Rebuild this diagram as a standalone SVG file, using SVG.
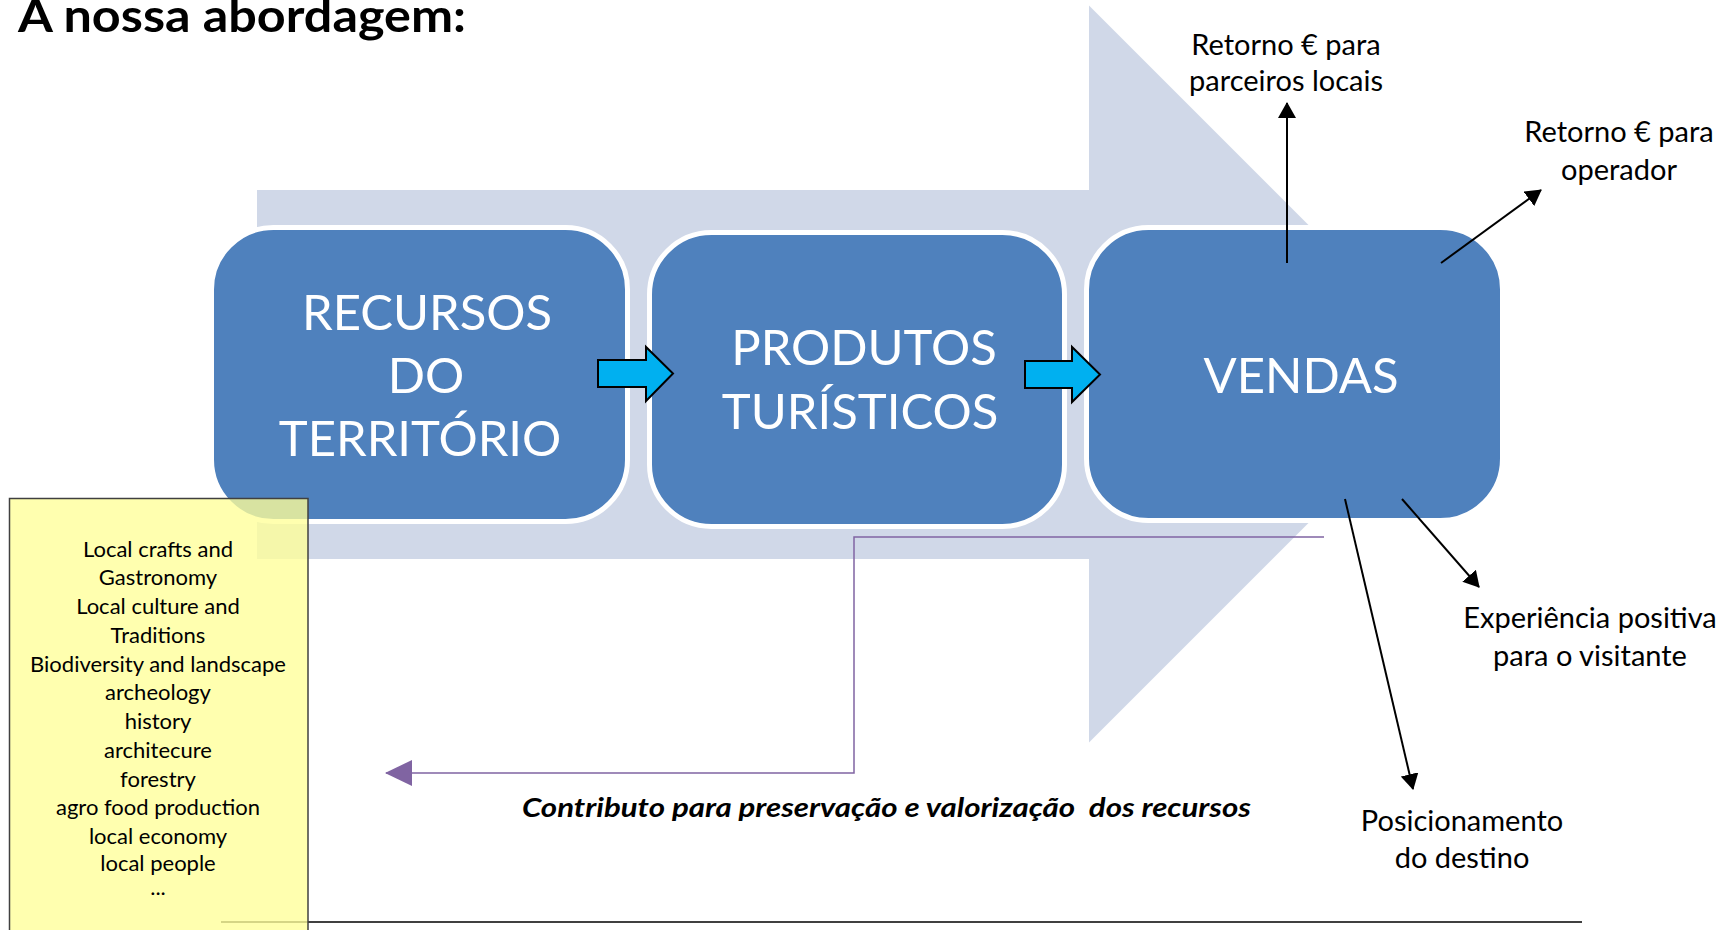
<svg xmlns="http://www.w3.org/2000/svg" width="1721" height="930" viewBox="0 0 1721 930">
<style>
.box{fill:#4F81BD;stroke:#FFFFFF;stroke-width:5}
.bt{font-family:Lato,"Liberation Sans",sans-serif;font-size:49px;fill:#FFFFFF;text-anchor:middle}
.lbl{font-family:Lato,"Liberation Sans",sans-serif;font-size:29px;fill:#000000;text-anchor:middle}
.lst{font-family:Lato,"Liberation Sans",sans-serif;font-size:22px;fill:#000000;text-anchor:middle}
.blk{stroke:#000000;stroke-width:2;fill:none;marker-end:url(#ah)}
.cyan{fill:#00B0F0;stroke:#000000;stroke-width:2;stroke-linejoin:miter}
</style>
<defs>
<marker id="ah" markerUnits="userSpaceOnUse" viewBox="0 0 16 18" refX="15" refY="9" markerWidth="16" markerHeight="18" orient="auto">
<path d="M0,0 L16,9 L0,18 z" fill="#000000"/>
</marker>
<marker id="ph" markerUnits="userSpaceOnUse" viewBox="0 0 27 26" refX="26" refY="13" markerWidth="27" markerHeight="26" orient="auto">
<path d="M0,0 L27,13 L0,26 z" fill="#8064A2"/>
</marker>
</defs>
<rect width="1721" height="930" fill="#FFFFFF"/>
<text x="18" y="32" font-family="Lato,'Liberation Sans',sans-serif" font-weight="bold" font-size="46" textLength="448" lengthAdjust="spacingAndGlyphs" fill="#000000">A nossa abordagem:</text>
<g id="background-arrow">
<polygon points="257,190 1089,190 1089,5.5 1457.5,374 1089,742.5 1089,559 257,559" fill="#D0D8E8"/>
</g>
<g id="node-recursos">
<rect class="box" x="211.5" y="227.5" width="416" height="294" rx="62" ry="62"/>
<text class="bt" x="427" y="330">RECURSOS</text>
<text class="bt" x="426" y="393">DO</text>
<text class="bt" x="420" y="456">TERRITÓRIO</text>
</g>
<g id="node-produtos">
<rect class="box" x="649.5" y="232.5" width="415" height="294" rx="62" ry="62"/>
<text class="bt" x="864" y="365">PRODUTOS</text>
<text class="bt" x="860" y="429">TURÍSTICOS</text>
</g>
<g id="node-vendas">
<rect class="box" x="1086.5" y="227.5" width="416" height="293" rx="62" ry="62"/>
<text class="bt" x="1301" y="393">VENDAS</text>
</g>
<g id="connectors">
<polygon class="cyan" points="598,360 646,360 646,347 673,373.5 646,401 646,387 598,387"/>
<polygon class="cyan" points="1025,361 1072,361 1072,347 1100,374.5 1072,402 1072,388 1025,388"/>
<line class="blk" x1="1287" y1="263" x2="1287" y2="103"/>
<line class="blk" x1="1441" y1="263" x2="1541" y2="190"/>
<line class="blk" x1="1402" y1="499" x2="1479" y2="587"/>
<line class="blk" x1="1345" y1="499" x2="1413" y2="789"/>
<polyline points="1324,537 854,537 854,773 386,773" fill="none" stroke="#8064A2" stroke-width="1.5" marker-end="url(#ph)"/>
</g>
<g id="label-parceiros">
<text class="lbl" x="1286" y="55">Retorno € para</text>
<text class="lbl" x="1286" y="91">parceiros locais</text>
</g>
<g id="label-operador">
<text class="lbl" x="1619" y="142">Retorno € para</text>
<text class="lbl" x="1619" y="180">operador</text>
</g>
<g id="label-experiencia">
<text class="lbl" x="1590" y="628">Experiência positiva</text>
<text class="lbl" x="1590" y="666">para o visitante</text>
</g>
<g id="label-posicionamento">
<text class="lbl" x="1462" y="831">Posicionamento</text>
<text class="lbl" x="1462" y="868">do destino</text>
</g>
<g id="label-contributo">
<text x="522" y="817" font-family="Lato,'Liberation Sans',sans-serif" font-weight="bold" font-style="italic" font-size="26" textLength="729" lengthAdjust="spacingAndGlyphs" fill="#000000" xml:space="preserve">Contributo para preservação e valorização  dos recursos</text>
</g>
<line x1="221" y1="922" x2="1582" y2="922" stroke="#404040" stroke-width="2"/>
<g id="node-resources-list">
<rect x="9.5" y="498.5" width="298.5" height="445" fill="#FFFF99" fill-opacity="0.78" stroke="#404040" stroke-width="1.5"/>
<text class="lst" x="158" y="557">Local crafts and</text>
<text class="lst" x="158" y="585">Gastronomy</text>
<text class="lst" x="158" y="614">Local culture and</text>
<text class="lst" x="158" y="643">Traditions</text>
<text class="lst" x="158" y="672">Biodiversity and landscape</text>
<text class="lst" x="158" y="700">archeology</text>
<text class="lst" x="158" y="729">history</text>
<text class="lst" x="158" y="758">architecure</text>
<text class="lst" x="158" y="787">forestry</text>
<text class="lst" x="158" y="815">agro food production</text>
<text class="lst" x="158" y="844">local economy</text>
<text class="lst" x="158" y="871" font-size="18">local people</text>
<text class="lst" x="158" y="895" font-size="16">...</text>
</g>
</svg>
